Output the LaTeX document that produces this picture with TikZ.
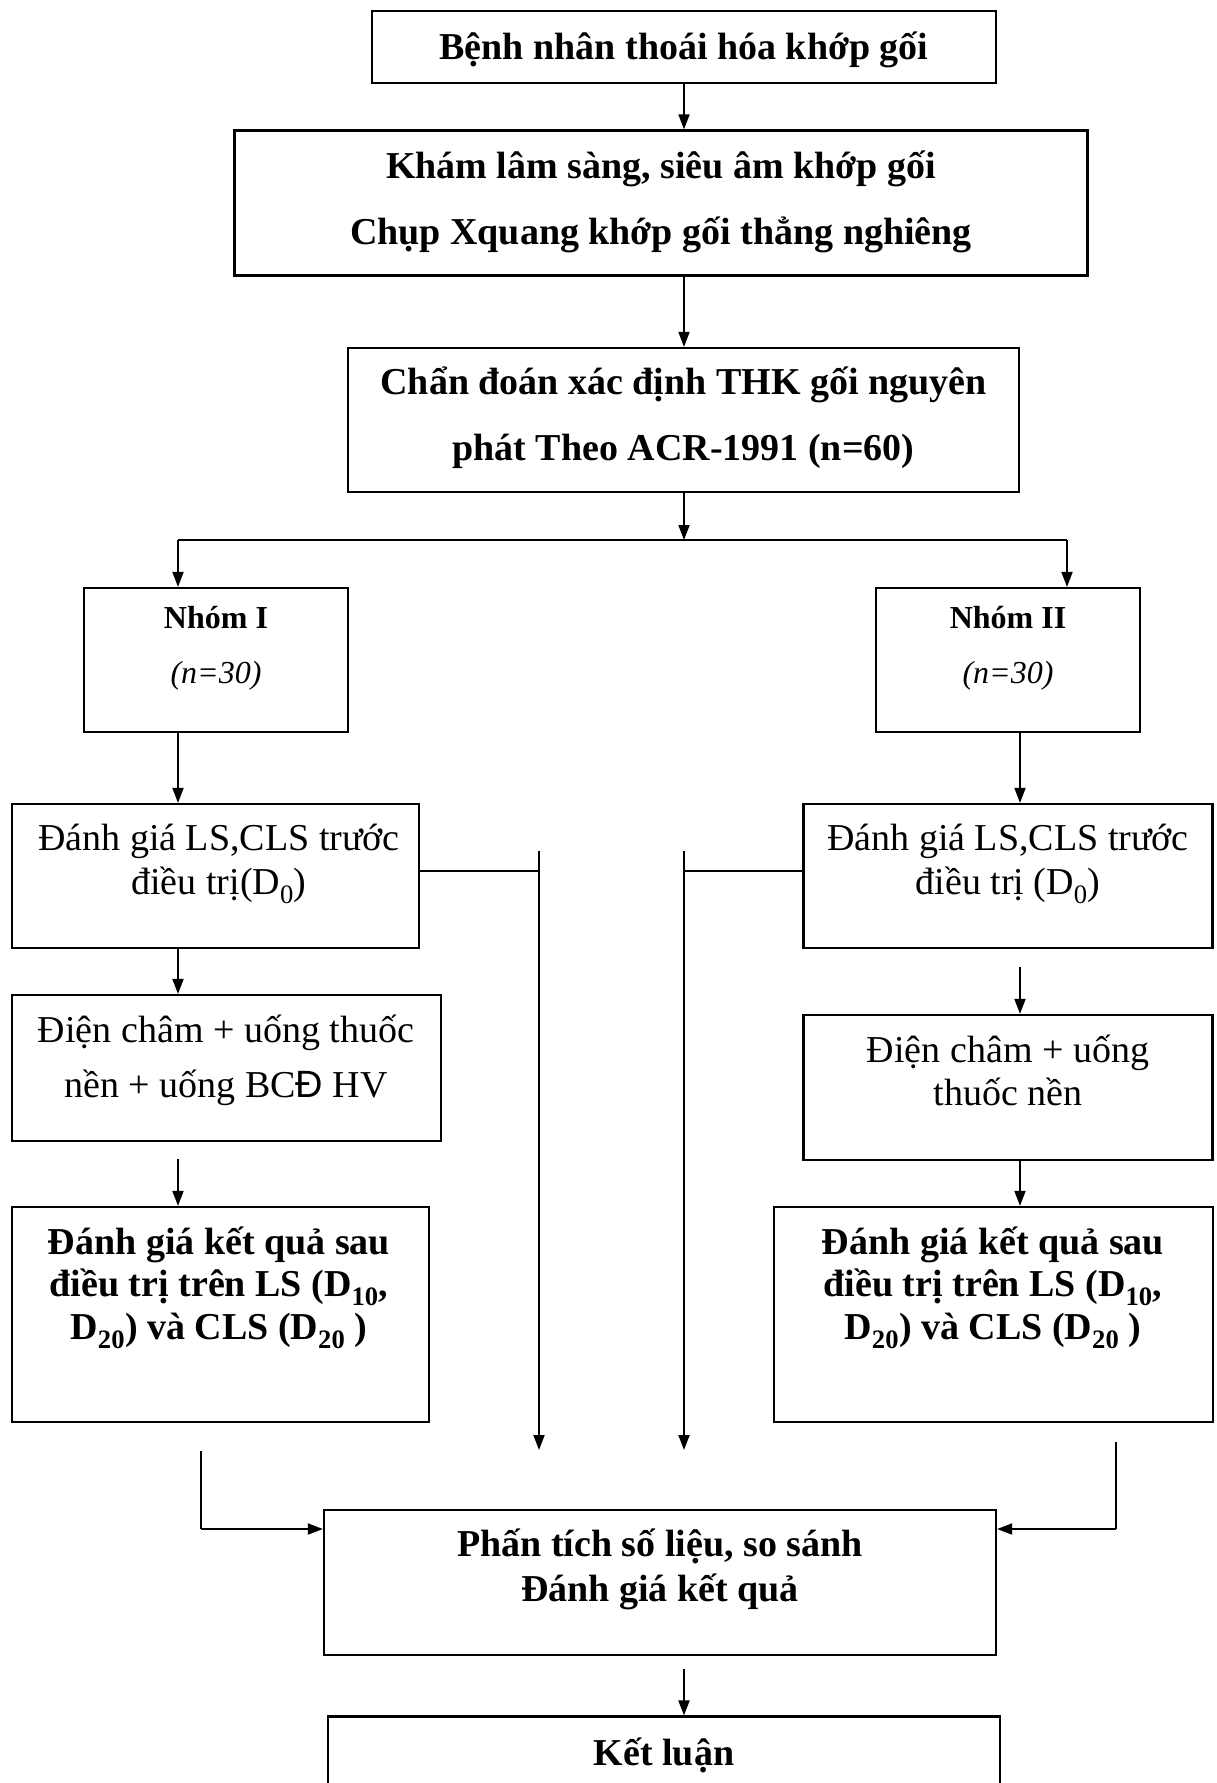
\documentclass[tikz,border=0pt]{standalone}
\usepackage{fontspec}
\setmainfont{Liberation Serif}
\setsansfont{Liberation Sans}
\usetikzlibrary{arrows.meta}
\newcommand\ls[2]{\fontsize{#1}{#2}\selectfont}
\begin{document}
\begin{tikzpicture}[x=1pt,y=-1pt,
  box/.style={draw, line width=2.2pt, inner sep=0pt},
  txt/.style={align=center, inner sep=0pt},
  con/.style={line width=1.8pt},
  arr/.style={line width=1.8pt, -{Triangle[length=15pt,width=11pt]}}]
\useasboundingbox (0,0) rectangle (1217,1783);
\clip (0,0) rectangle (1217,1783);
\fill[white] (0,0) rectangle (1217,1783);
% boxes
\node[box, minimum width=624pt, minimum height=72pt] (b1) at (684,47) {};
\node[box, minimum width=853pt, minimum height=145pt] (b2) at (661,203) {};
\node[box, minimum width=671pt, minimum height=144pt] (b3) at (683.5,420) {};
\node[box, minimum width=264pt, minimum height=144pt] (g1) at (216,660) {};
\node[box, minimum width=264pt, minimum height=144pt] (g2) at (1008,660) {};
\node[box, minimum width=407pt, minimum height=144pt] (d0L) at (215.3,876) {};
\node[box, minimum width=409pt, minimum height=144pt] (d0R) at (1008,876) {};
\node[box, minimum width=429pt, minimum height=146pt] (tL) at (226.3,1068) {};
\node[box, minimum width=409pt, minimum height=145pt] (tR) at (1008,1087.5) {};
\node[box, minimum width=417pt, minimum height=215pt] (rL) at (220.3,1314.5) {};
\node[box, minimum width=439pt, minimum height=215pt] (rR) at (993.5,1314.5) {};
\node[box, minimum width=672pt, minimum height=145pt] (c) at (660,1582.5) {};
\node[box, minimum width=672pt, minimum height=183pt] (k) at (664,1808) {};
% texts
\node[txt, font=\ls{38}{44}\bfseries] (b1t) at (684,50) {Bệnh nhân thoái hóa khớp gối};
\node[txt, font=\ls{38}{66}\bfseries] (b2t) at (661,201.5) {Khám lâm sàng, siêu âm khớp gối\\Chụp Xquang khớp gối thẳng nghiêng};
\node[txt, font=\ls{38}{66}\bfseries] (b3t) at (683.5,418) {Chẩn đoán xác định THK gối nguyên\\phát Theo ACR-1991 (n=60)};
\node[txt, font=\ls{32}{55}] (g1t) at (216,648.5) {\textbf{Nhóm I}\\\textit{(n=30)}};
\node[txt, font=\ls{32}{55}] (g2t) at (1008,648.5) {\textbf{Nhóm II}\\\textit{(n=30)}};
\node[txt, font=\ls{38}{43.5}] (d0Lt) at (219,864) {Đánh giá LS,CLS trước\\điều trị(D\textsubscript{0})};
\node[txt, font=\ls{38}{43.5}] (d0Rt) at (1008,864) {Đánh giá LS,CLS trước\\điều trị (D\textsubscript{0})};
\node[txt, font=\ls{38}{55}] (tLt) at (226,1060) {Điện châm + uống thuốc\\nền + uống BC{\sffamily Đ} HV};
\node[txt, font=\ls{38}{43}] (tRt) at (1008,1070) {Điện châm + uống\\thuốc nền};
\node[txt, font=\ls{38}{42.5}\bfseries] (rLt) at (219,1287.5) {Đánh giá kết quả sau\\điều trị trên LS (D\textsubscript{10},\\D\textsubscript{20}) và CLS (D\textsubscript{20} )};
\node[txt, font=\ls{38}{42.5}\bfseries] (rRt) at (993,1287.5) {Đánh giá kết quả sau\\điều trị trên LS (D\textsubscript{10},\\D\textsubscript{20}) và CLS (D\textsubscript{20} )};
\node[txt, font=\ls{38}{45}\bfseries] (ct) at (660,1569.5) {Phấn tích số liệu, so sánh\\Đánh giá kết quả};
\node[txt, font=\ls{38}{44}\bfseries] (kt) at (664,1755) {Kết luận};
% coordinates
\coordinate (xL) at (178,0);
\coordinate (xR) at (1020,0);
\coordinate (sp) at (684,540);
\coordinate (hl) at (178,540);
\coordinate (hr) at (1067,540);
% connectors
\draw[arr] (b1.south) -- (b1.south |- b2.north);
\draw[arr] (b1.south |- b2.south) -- (b1.south |- b3.north);
\draw[arr] (b1.south |- b3.south) -- (sp);
\draw[con] (hl) -- (hr);
\draw[arr] (hl) -- (hl |- g1.north);
\draw[arr] (hr) -- (hr |- g2.north);
\draw[arr] (xL |- g1.south) -- (xL |- d0L.north);
\draw[arr] (xR |- g2.south) -- (xR |- d0R.north);
\draw[arr] (xL |- d0L.south) -- (xL |- tL.north);
\coordinate (tRin) at (1020,967);
\draw[arr] (tRin) -- (tRin |- tR.north);
\coordinate (rLin) at (178,1159);
\draw[arr] (rLin) -- (rLin |- rL.north);
\draw[arr] (xR |- tR.south) -- (xR |- rR.north);
% side branches
\coordinate (vLt) at (539,851);
\coordinate (vLb) at (539,1450);
\draw[con] (d0L.east |- 0,871) -- (vLt |- 0,871);
\draw[arr] (vLt) -- (vLb);
\coordinate (vRt) at (684,851);
\coordinate (vRb) at (684,1450);
\draw[con] (d0R.west |- 0,871) -- (vRt |- 0,871);
\draw[arr] (vRt) -- (vRb);
% bottom L connectors
\coordinate (lLt) at (201,1451);
\coordinate (lLb) at (201,1529);
\draw[con] (lLt) -- (lLb);
\draw[arr] (lLb) -- (c.west |- lLb);
\coordinate (lRt) at (1116,1442);
\coordinate (lRb) at (1116,1529);
\draw[con] (lRt) -- (lRb);
\draw[arr] (lRb) -- (c.east |- lRb);
\coordinate (kin) at (684,1669);
\draw[arr] (kin) -- (kin |- k.north);
\end{tikzpicture}
\end{document}
